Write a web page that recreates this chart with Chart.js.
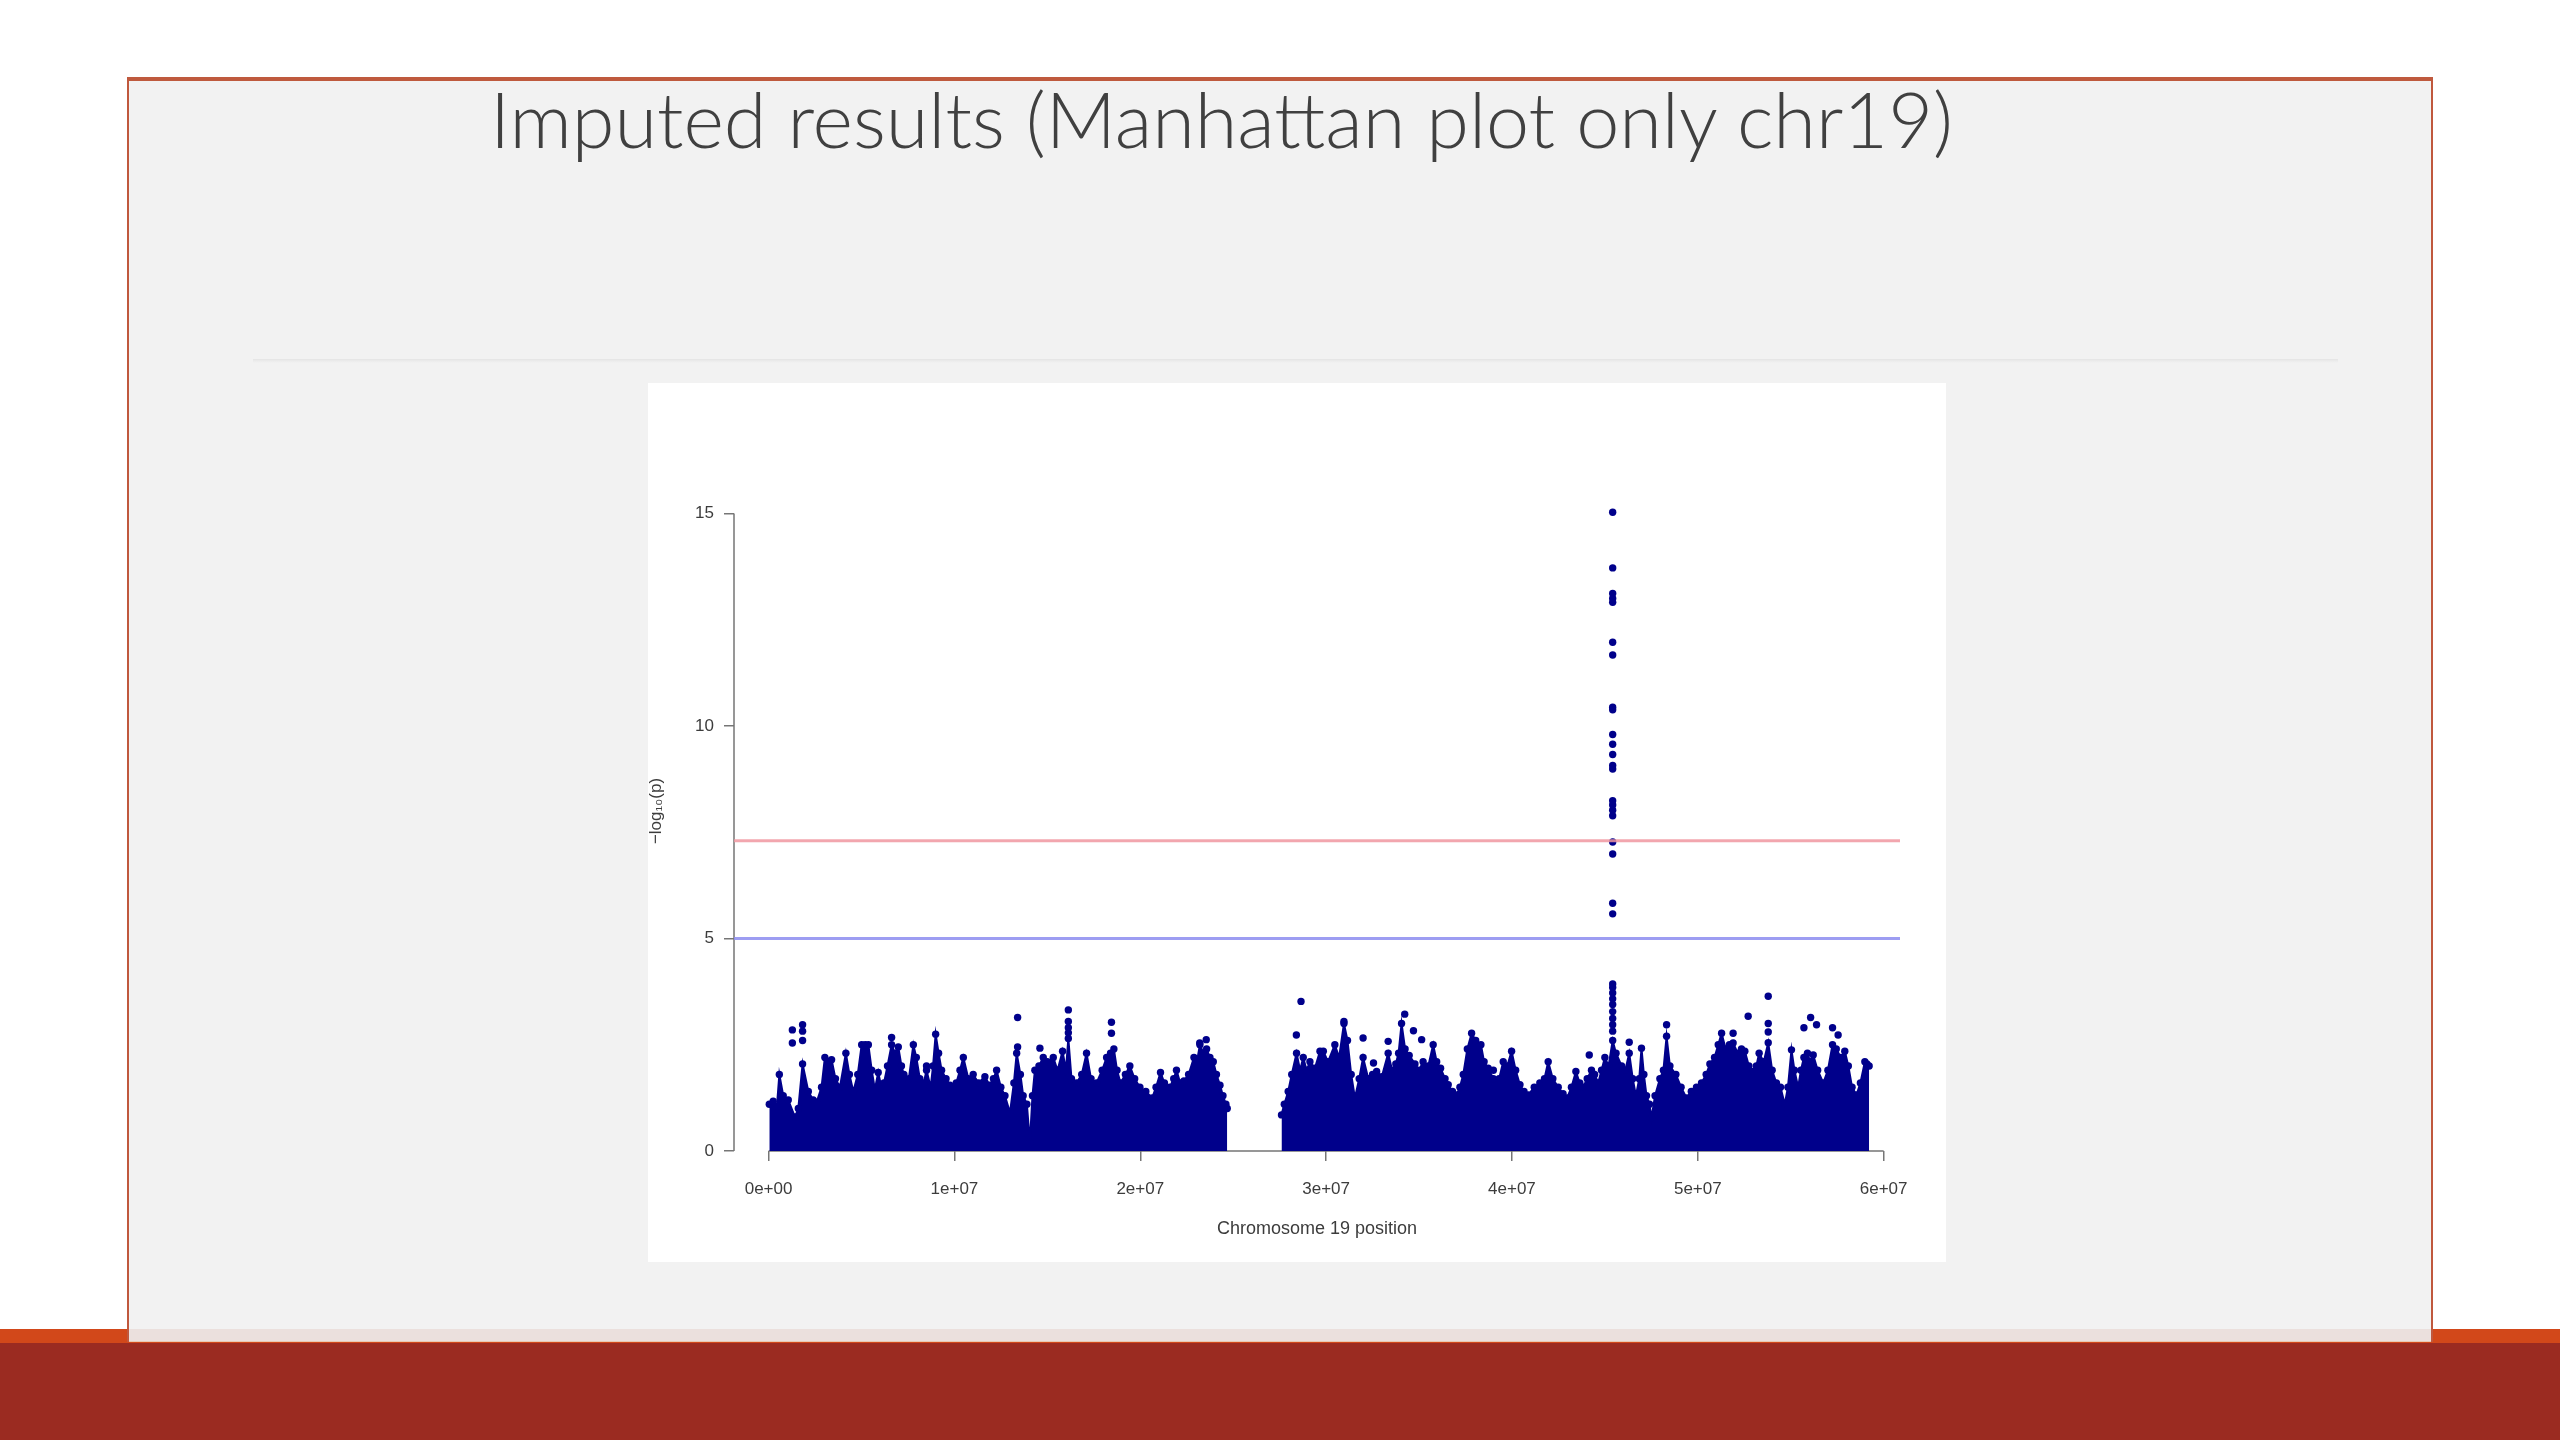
<!DOCTYPE html>
<html>
<head>
<meta charset="utf-8">
<script src="https://cdn.jsdelivr.net/npm/chart.js@4.4.1/dist/chart.umd.min.js"></script>
<style>
  html, body { margin: 0; padding: 0; background: #ffffff; }
  body { width: 2560px; height: 1440px; position: relative; overflow: hidden; }
  .band-orange { position: absolute; left: 0; top: 1329px; width: 2560px; height: 15px; background: #d2481a; }
  .band-red { position: absolute; left: 0; top: 1343px; width: 2560px; height: 97px; background: #9b2b21; }
  .frame { position: absolute; left: 127px; top: 77px; width: 2302px; height: 1261px;
           background: #f2f2f2; border-left: 2px solid #c0583d; border-right: 2px solid #c0583d;
           border-top: 4px solid #bf5a3e; box-sizing: content-box; }
  .frame-tint { position: absolute; left: 0; bottom: 1px; width: 100%; height: 12px; background: #ebe0dd; }
  .frame-edge { position: absolute; left: 0; bottom: 0; width: 100%; height: 1px; background: #e8c9b4; }
  .sep { position: absolute; left: 253px; top: 359px; width: 2085px; height: 4px;
         background: linear-gradient(#e4e4e4, #ececec 50%, #f2f2f2); }
  .title { position: absolute; left: 490px; top: 81px; font-family: 'Lato', 'Open Sans', sans-serif;
           font-weight: 300; font-size: 76px; line-height: 1; color: #404040; white-space: nowrap;
           transform-origin: 0 0; }
  .plotbox { position: absolute; left: 648px; top: 383px; width: 1298px; height: 879px; background: #ffffff; }
  canvas { position: absolute; left: 0; top: 0; }
</style>
</head>
<body>
<div class="band-orange"></div>
<div class="band-red"></div>
<div class="frame"><div class="frame-tint"></div><div class="frame-edge"></div></div>
<div class="sep"></div>
<div class="title" id="title">Imputed results (Manhattan plot only chr19)</div>
<div class="plotbox"><canvas id="c" width="1298" height="879"></canvas></div>
<script>
// ---------- data ----------
// Upper edge of the dense SNP mass: position (Mb) and -log10(p); null = region without SNPs
const massPosMb = [
  0.04,0.25,0.45,0.58,0.79,1.06,1.42,1.60,1.83,2.14,2.40,2.59,2.85,3.03,3.20,3.39,3.60,3.84,4.16,4.35,
  4.56,4.80,5.01,5.20,5.37,5.55,5.72,5.90,6.05,6.21,6.40,6.62,6.80,6.98,7.15,7.28,7.55,7.79,7.95,8.14,
  8.35,8.50,8.72,8.85,8.99,9.15,9.31,9.55,9.76,10.10,10.30,10.48,10.75,11.01,11.30,11.64,11.90,12.10,12.27,12.50,
  12.72,12.99,13.20,13.35,13.55,13.70,13.90,14.06,14.20,14.33,14.55,14.78,15.00,15.32,15.55,15.82,16.00,16.13,16.30,16.57,
  16.85,17.11,17.35,17.65,17.95,18.19,18.40,18.58,18.75,18.94,19.20,19.44,19.70,19.98,20.30,20.64,20.85,21.09,21.30,21.59,
  21.80,21.95,22.15,22.35,22.60,22.89,23.05,23.21,23.40,23.57,23.75,23.93,24.10,24.29,24.45,24.61,24.68,
  26.00,
  27.60,27.75,27.96,28.15,28.41,28.60,28.77,28.95,29.13,29.40,29.67,29.85,30.10,30.47,30.70,30.96,31.15,31.35,31.55,31.78,
  31.99,32.27,32.50,32.72,33.00,33.34,33.55,33.75,33.90,34.06,34.25,34.47,34.78,35.00,35.22,35.50,35.76,35.95,36.16,36.40,
  36.57,36.80,37.02,37.20,37.38,37.60,37.83,38.05,38.33,38.50,38.72,39.00,39.31,39.53,39.75,39.98,40.20,40.43,40.65,40.88,
  41.20,41.50,41.75,41.95,42.20,42.49,42.75,42.97,43.20,43.44,43.65,43.83,44.05,44.28,44.45,44.64,44.82,45.00,45.20,45.42,
  45.60,45.90,46.10,46.31,46.50,46.67,46.85,46.97,47.10,47.24,47.40,47.51,47.70,47.96,48.15,48.32,48.50,48.82,49.10,49.39,
  49.65,49.93,50.20,50.45,50.65,50.90,51.10,51.28,51.50,51.70,51.90,52.15,52.35,52.53,52.75,53.00,53.15,53.30,53.55,53.79,
  54.00,54.23,54.45,54.68,54.85,55.04,55.20,55.40,55.55,55.71,55.90,56.05,56.21,56.45,56.75,57.00,57.25,57.45,57.70,57.91,
  58.10,58.30,58.54,58.75,58.99,59.10,59.22
];
const massTopLogP = [
  1.10,1.17,1.05,1.80,1.30,1.20,0.80,1.00,2.05,1.40,1.20,1.15,1.50,2.20,2.10,2.15,1.70,1.50,2.30,1.80,
  1.40,1.80,2.50,2.50,2.50,1.90,1.45,1.85,1.55,1.60,2.00,2.50,2.30,2.45,2.00,1.80,1.70,2.50,2.20,1.70,
  1.60,1.90,1.50,2.00,2.75,2.30,1.90,1.70,1.55,1.60,1.90,2.20,1.70,1.80,1.60,1.75,1.55,1.70,1.90,1.50,
  1.30,0.90,1.60,2.30,1.80,1.30,1.10,0.20,1.30,1.90,2.00,2.20,2.10,2.20,1.90,2.35,1.90,2.65,1.70,1.60,
  1.80,2.30,1.70,1.60,1.90,2.20,2.30,2.40,1.90,1.60,1.80,2.00,1.70,1.50,1.40,1.25,1.50,1.85,1.60,1.50,
  1.70,1.90,1.60,1.65,1.80,2.20,2.10,2.50,2.30,2.40,2.20,2.10,1.80,1.55,1.30,1.10,1.00,
  null,
  0.85,1.10,1.40,1.80,2.30,1.90,2.20,1.90,2.10,1.95,2.35,2.35,2.10,2.50,2.20,3.00,2.60,1.80,1.25,1.70,
  2.20,1.70,1.80,1.87,1.75,2.30,1.90,2.05,2.30,3.00,2.40,2.25,2.05,1.90,2.10,2.00,2.50,2.10,1.95,1.70,
  1.56,1.40,1.32,1.50,1.80,2.40,2.77,2.60,2.50,2.10,1.95,1.70,1.70,2.10,2.00,2.35,1.90,1.56,1.40,1.32,
  1.50,1.60,1.70,2.10,1.70,1.50,1.35,1.25,1.50,1.87,1.60,1.50,1.70,1.90,1.80,1.60,1.90,2.20,2.00,2.60,
  2.30,2.00,1.90,2.30,1.70,1.30,1.70,2.42,1.80,1.30,1.10,0.78,1.30,1.70,1.90,2.70,2.00,1.80,1.50,1.25,
  1.40,1.50,1.60,1.80,2.05,2.20,2.50,2.77,2.40,2.50,2.54,2.30,2.40,2.35,2.00,1.87,2.00,2.30,2.10,2.55,
  1.90,1.60,1.50,1.10,1.50,2.38,1.90,1.50,1.90,2.20,2.30,2.10,2.26,1.90,1.60,1.90,2.50,2.40,2.20,2.35,
  2.00,1.50,1.32,1.60,2.10,2.05,2.00
];
// Individual SNPs standing out above the mass (position Mb, -log10 p)
const dotPosMb = [
  1.28,1.28,1.83,1.83,1.83,6.62,8.50,13.40,13.40,14.60,16.13,16.13,16.13,16.13,18.45,18.45,23.20,23.55,28.40,28.65,
  30.96,31.99,32.55,33.34,34.23,34.70,35.14,39.00,44.16,46.31,48.32,51.90,52.71,53.79,53.79,53.79,55.71,56.07,56.39,57.25,
  57.55,
  45.42,45.42,45.42,45.42,45.42,45.42,45.42,45.42,45.42,45.42,45.42,45.42,45.42,45.42,45.42,45.42,45.42,45.42,45.42,45.42,
  45.42,45.42,45.42,45.42,45.42,45.42,45.42,45.42,45.42,45.42,45.42
];
const dotLogP = [
  2.85,2.54,2.97,2.82,2.60,2.67,2.00,3.14,2.45,2.42,3.32,3.05,2.90,2.78,3.03,2.77,2.54,2.62,2.73,3.52,
  3.05,2.66,2.07,2.58,3.22,2.83,2.62,1.90,2.26,2.56,2.97,2.77,3.17,3.64,3.00,2.80,2.90,3.14,2.97,2.90,
  2.73,
  2.82,2.97,3.12,3.28,3.45,3.58,3.72,3.85,3.93,5.58,5.83,6.99,7.27,7.89,8.02,8.14,8.24,8.99,9.07,9.33,
  9.57,9.80,10.38,10.44,11.67,11.97,12.91,13.00,13.12,13.72,15.03
];
// Significance thresholds (-log10 p): suggestive 1e-5, genome-wide 5e-8
const thresholdLogP = [5, 7.30103];
// Axis ticks
const xTickValues = [0, 1e7, 2e7, 3e7, 4e7, 5e7, 6e7];
const xTickLabels = ['0e+00', '1e+07', '2e+07', '3e+07', '4e+07', '5e+07', '6e+07'];
const yTickValues = [0, 5, 10, 15];
const yTickLabels = ['0', '5', '10', '15'];
const xAxisTitle = 'Chromosome 19 position';
const yAxisTitle = '\u2212log\u2081\u2080(p)';
// x / y limits of the plotting region
const xLimits = [-1.86e6, 60.88e6];
const yLimits = [0, 16];

// ---------- chart ----------
const NAVY = '#00008b';
const thresholdColors = ['rgba(140,140,240,0.85)', 'rgba(240,150,160,0.85)'];
const AXIS_COLOR = '#767676';
const TEXT_COLOR = '#3c3c3c';
const FONT = "'Liberation Sans', Arial, sans-serif";

const massData = massPosMb.map((p, i) => ({ x: p * 1e6, y: massTopLogP[i] }));
const dotData = dotPosMb.map((p, i) => ({ x: p * 1e6, y: dotLogP[i] }));

const rAxesPlugin = {
  id: 'rAxes',
  beforeDatasetsDraw(chart) {
    const { ctx, chartArea, scales: { x, y } } = chart;
    ctx.save();
    ctx.strokeStyle = AXIS_COLOR;
    ctx.lineWidth = 1.5;
    ctx.beginPath();
    const yb = y.getPixelForValue(yLimits[0]);
    ctx.moveTo(x.getPixelForValue(xTickValues[0]), yb);
    ctx.lineTo(x.getPixelForValue(xTickValues[xTickValues.length - 1]), yb);
    ctx.moveTo(chartArea.left, y.getPixelForValue(yTickValues[0]));
    ctx.lineTo(chartArea.left, y.getPixelForValue(yTickValues[yTickValues.length - 1]));
    ctx.stroke();
    ctx.restore();
  },
  afterDatasetsDraw(chart) {
    const { ctx, chartArea, scales: { y } } = chart;
    ctx.save();
    ctx.lineWidth = 3;
    thresholdLogP.forEach((v, i) => {
      const py = y.getPixelForValue(v);
      ctx.strokeStyle = thresholdColors[i];
      ctx.beginPath();
      ctx.moveTo(chartArea.left, py);
      ctx.lineTo(chartArea.right, py);
      ctx.stroke();
    });
    ctx.restore();
  }
};

new Chart(document.getElementById('c'), {
  type: 'scatter',
  data: {
    datasets: [
      {
        type: 'line',
        label: 'SNPs',
        data: massData,
        borderColor: NAVY,
        backgroundColor: NAVY,
        borderWidth: 2,
        fill: 'origin',
        tension: 0,
        spanGaps: false,
        pointRadius: 3.7,
        pointBorderWidth: 0,
        pointBackgroundColor: NAVY
      },
      {
        label: 'top SNPs',
        data: dotData,
        backgroundColor: NAVY,
        borderWidth: 0,
        pointRadius: 3.7
      }
    ]
  },
  options: {
    responsive: false,
    animation: false,
    devicePixelRatio: 1,
    layout: { padding: { top: 88, right: 46, bottom: 0, left: 0 } },
    plugins: { legend: { display: false }, tooltip: { enabled: false } },
    scales: {
      x: {
        type: 'linear',
        min: xLimits[0],
        max: xLimits[1],
        afterBuildTicks: s => { s.ticks = xTickValues.map(v => ({ value: v })); },
        afterFit: s => { s.height = 111; },
        border: { display: false },
        grid: { drawOnChartArea: false, drawTicks: true, tickLength: 10, color: AXIS_COLOR, lineWidth: 1.5 },
        ticks: {
          autoSkip: false, maxRotation: 0, padding: 18, color: TEXT_COLOR,
          font: { family: FONT, size: 17 },
          callback: v => xTickLabels[xTickValues.indexOf(v)]
        },
        title: { display: true, text: xAxisTitle, color: TEXT_COLOR,
                 font: { family: FONT, size: 18, lineHeight: 1.2 }, padding: { top: 0, bottom: 22 } }
      },
      y: {
        type: 'linear',
        min: yLimits[0],
        max: yLimits[1],
        afterBuildTicks: s => { s.ticks = yTickValues.map(v => ({ value: v })); },
        afterFit: s => { s.width = 86; },
        border: { display: false },
        grid: { drawOnChartArea: false, drawTicks: true, tickLength: 10, color: AXIS_COLOR, lineWidth: 1.5 },
        ticks: {
          autoSkip: false, padding: 10, color: TEXT_COLOR,
          font: { family: FONT, size: 17 },
          callback: v => yTickLabels[yTickValues.indexOf(v)]
        },
        title: { display: true, text: yAxisTitle, color: TEXT_COLOR,
                 font: { family: FONT, size: 17, lineHeight: 1 }, padding: { top: 0, bottom: 0 } }
      }
    }
  },
  plugins: [rAxesPlugin]
});

// fit the slide title to the reference width
(document.fonts ? document.fonts.ready : Promise.resolve()).then(() => {
  const t = document.getElementById('title');
  const w = t.getBoundingClientRect().width;
  t.style.transform = 'scaleX(' + (1463 / w) + ')';
});
</script>
</body>
</html>
